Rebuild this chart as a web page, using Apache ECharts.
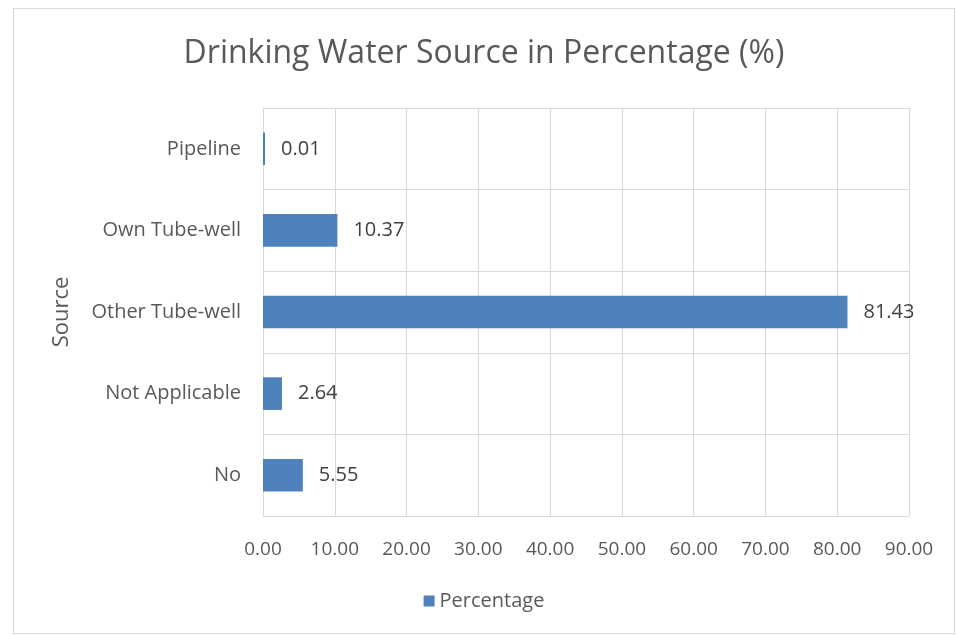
<!DOCTYPE html>
<html lang="en" style="height: 100%">
<head>
    <meta charset="utf-8">
    <script type="text/javascript" src="https://fastly.jsdelivr.net/npm/echarts@6/dist/echarts.min.js"></script>
</head>
<body style="height: 100%; margin: 0; background: #fff">
<div id="container" style="position: absolute; left: 13px; top: 8px; width: 942px; height: 626px; border: 1px solid #d9d9d9; box-sizing: border-box"></div>
<script type="text/javascript">
    // data
    var sources = ['No', 'Not Applicable', 'Other Tube-well', 'Own Tube-well', 'Pipeline'];
    var percentage = [5.55, 2.64, 81.43, 10.37, 0.01];
    var seriesName = 'Percentage';

    var txt = '#595959';
    var fontName = 'Open Sans';

    var dom = document.getElementById('container');
    var myChart = echarts.init(dom, null, {renderer: 'canvas'});

    var option = {
        animation: false,
        title: {
            text: 'Drinking Water Source in Percentage (%)',
            left: 'center',
            top: 24,
            textStyle: {color: txt, fontSize: 32, fontWeight: 'normal', fontFamily: fontName}
        },
        legend: {
            bottom: 17,
            left: 'center',
            itemWidth: 11,
            itemHeight: 11,
            itemGap: 6,
            icon: 'rect',
            textStyle: {color: txt, fontSize: 20, fontFamily: fontName},
            data: [seriesName]
        },
        grid: {left: 249, right: 45, top: 99, bottom: 117},
        xAxis: {
            type: 'value',
            min: 0,
            max: 90,
            interval: 10,
            axisLine: {show: false},
            axisTick: {show: false},
            axisLabel: {
                color: txt, fontSize: 19, fontFamily: fontName, margin: 24,
                formatter: function (v) { return v.toFixed(2); }
            },
            splitLine: {lineStyle: {color: '#d9d9d9', width: 1}}
        },
        yAxis: {
            type: 'category',
            data: sources,
            name: 'Source',
            nameLocation: 'middle',
            nameGap: 190,
            nameTextStyle: {color: txt, fontSize: 22, fontFamily: fontName},
            axisLine: {show: true, lineStyle: {color: '#d9d9d9'}},
            axisTick: {show: false},
            axisLabel: {color: txt, fontSize: 20, fontFamily: fontName, margin: 22},
            splitLine: {show: true, lineStyle: {color: '#d9d9d9', width: 1}}
        },
        series: [
            {
                name: seriesName,
                type: 'bar',
                data: percentage,
                barWidth: '40%',
                barMinHeight: 2,
                itemStyle: {color: '#4f81bd'},
                label: {
                    show: true,
                    position: 'right',
                    distance: 16,
                    color: '#404040',
                    fontSize: 20,
                    fontFamily: fontName,
                    formatter: function (p) { return p.value.toFixed(2); }
                }
            }
        ]
    };

    myChart.setOption(option);
    window.addEventListener('resize', myChart.resize);
</script>
</body>
</html>
